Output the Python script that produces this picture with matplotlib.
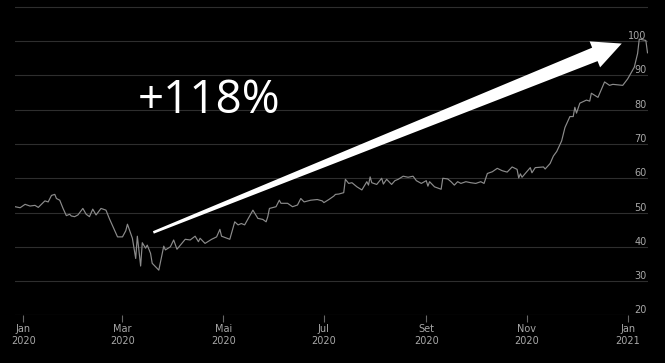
import numpy as np
import matplotlib
matplotlib.use('Agg')
import matplotlib.pyplot as plt
import matplotlib.patches as mpatches

# days since 2020-01-01 and price index
days = [-5, -2, 1, 4, 7, 9, 13, 15, 17, 19, 20, 22, 24, 26, 28, 29, 31, 33, 36, 38,
        40, 42, 44, 47, 50, 52, 57, 60, 62, 63, 66, 68, 69, 71, 72, 74, 75, 77, 78, 81,
        82, 85, 86, 89, 91, 93, 98, 101, 104, 106, 107, 110, 114, 117, 119, 120, 125, 128, 130, 132,
        134, 139, 142, 145, 147, 148, 149, 153, 155, 156, 160, 163, 166, 168, 170, 174, 178, 181, 182, 185,
        188, 189, 191, 194, 195, 197, 199, 202, 205, 208, 209, 210, 211, 214, 217, 218, 220, 223, 225, 227,
        230, 233, 236, 238, 241, 244, 245, 246, 249, 253, 254, 257, 259, 261, 263, 265, 268, 271, 274, 277,
        279, 281, 284, 287, 290, 293, 296, 299, 300, 301, 302, 307, 308, 310, 315, 316, 319, 321, 323, 326,
        328, 331, 333, 334, 335, 337, 341, 343, 344, 348, 352, 355, 357, 363, 366, 370, 372, 373, 377, 378]
values = [51.7, 51.4, 52.4, 51.9, 52.1, 51.5, 53.4, 53.1, 55.0, 55.3, 54.1, 53.6, 51.2, 49.1, 49.5, 49.0, 48.8, 49.3, 51.2, 49.5,
          48.8, 51.0, 49.3, 51.2, 50.7, 48.3, 42.9, 42.9, 44.7, 46.6, 42.5, 36.6, 43.1, 34.4, 41.2, 39.6, 40.5, 38.1, 35.2, 33.7,
          33.2, 40.2, 39.1, 40.0, 42.0, 39.3, 42.2, 42.0, 43.1, 41.5, 42.5, 41.0, 42.2, 42.9, 45.1, 43.1, 42.2, 47.3, 46.4, 46.8,
          46.4, 50.7, 48.3, 48.0, 47.3, 48.8, 51.2, 51.7, 53.6, 52.7, 52.7, 51.7, 52.2, 54.1, 53.1, 53.6, 53.8, 53.4, 52.9, 53.8,
          54.8, 55.3, 55.4, 55.8, 59.7, 58.5, 58.7, 57.5, 56.6, 59.0, 58.0, 60.4, 58.7, 58.2, 60.0, 58.3, 59.7, 58.2, 59.3, 59.7,
          60.6, 60.3, 60.6, 59.3, 58.5, 59.3, 57.7, 59.0, 57.5, 56.8, 60.0, 59.8, 59.0, 58.0, 59.0, 58.5, 59.0, 58.7, 58.5, 59.0,
          58.5, 61.4, 61.9, 62.9, 62.2, 61.8, 63.3, 62.6, 60.1, 61.3, 60.3, 63.1, 61.6, 63.1, 63.3, 62.7, 64.3, 66.5, 67.8, 70.9,
          74.8, 78.0, 78.0, 80.7, 79.0, 81.9, 82.8, 82.5, 84.8, 83.6, 88.1, 87.1, 87.4, 87.1, 89.0, 92.4, 96.4, 100.6, 100.2, 96.6]

tick_days = [0, 60, 121, 182, 244, 305, 366]
tick_labels = ['Jan\n2020', 'Mar\n2020', 'Mai\n2020', 'Jul\n2020', 'Set\n2020', 'Nov\n2020', 'Jan\n2021']
y_grid = [20, 30, 40, 50, 60, 70, 80, 90, 100, 110]
y_labels = ['20', '30', '40', '50', '60', '70', '80', '90', '100', '']

change_label = '+118%'
arrow_tail = (78.7, 44.2)   # (day, value)
arrow_tip = (362.4, 99.3)

fig = plt.figure(figsize=(6.65, 3.63), dpi=100, facecolor='black')
ax = fig.add_axes([15/665, 47.6/363, 633/665, 315.4/363])
ax.set_facecolor('black')
ax.set_xlim(-5.1, 378.3)
ax.set_ylim(20, 112)

for v in y_grid:
    ax.axhline(v, color='#444444' if v == 20 else '#2e2e2e', lw=0.8, zorder=1)
for v, lab in zip(y_grid, y_labels):
    ax.text(1 - 1.5/633, v, lab, transform=ax.get_yaxis_transform(), ha='right', va='bottom',
            fontsize=7, color='#a8a8a8', zorder=2)

ax.plot(days, values, color='#8c8c8c', lw=0.85, zorder=3)

for s in ax.spines.values():
    s.set_visible(False)
ax.set_yticks([])
ax.set_xticks(tick_days)
ax.set_xticklabels(tick_labels, fontsize=7, color='#a8a8a8', linespacing=1.25)
ax.tick_params(axis='x', length=5, width=0.8, color='#666666', pad=1)

# tapered arrow built in pixel space, mapped back to data
fig.canvas.draw()
T = ax.transData.transform(arrow_tail)
H = ax.transData.transform(arrow_tip)
d = H - T
L = np.hypot(*d)
u = d / L
n = np.array([-u[1], u[0]])
head_len, head_half, w0, w1 = 29, 14, 2.6, 14.5
B = H - u * head_len
pts = [T + n*w0/2, B + n*w1/2, B + n*head_half, H, B - n*head_half, B - n*w1/2, T - n*w0/2]
pts = ax.transData.inverted().transform(np.array(pts))
ax.add_patch(mpatches.Polygon(pts, closed=True, facecolor='white', edgecolor='none', zorder=4))

ax.text(69.0, 78.9, change_label, ha='left', va='baseline', fontsize=33,
        family=['Open Sans', 'DejaVu Sans'], color='white', zorder=5)

fig.savefig('out.png', dpi=100, facecolor='black')
